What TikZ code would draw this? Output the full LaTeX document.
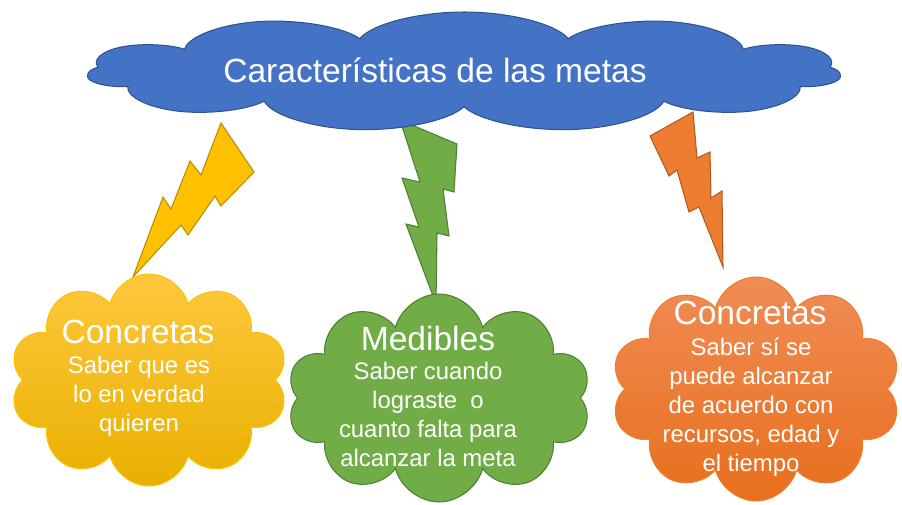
\documentclass[tikz,border=0pt]{standalone}
\usepackage{fontspec}
\setmainfont{Liberation Sans}
\usetikzlibrary{shapes.symbols}

\definecolor{metaazul}{HTML}{4472C4}
\definecolor{metaazulb}{HTML}{2F528F}
\definecolor{metaamarillo}{HTML}{FFC000}
\definecolor{metaamarilloa}{HTML}{FFC83D}
\definecolor{metaamarillob}{HTML}{E8B000}
\definecolor{metaamarillod}{HTML}{BC8C00}
\definecolor{metaverde}{HTML}{70AD47}
\definecolor{metaverded}{HTML}{507E32}
\definecolor{metanaranja}{HTML}{ED7D31}
\definecolor{metanaranjaa}{HTML}{F08C55}
\definecolor{metanaranjab}{HTML}{E86F1C}
\definecolor{metanaranjad}{HTML}{AE5A21}

\begin{document}
\begin{tikzpicture}[x=0.02cm,y=-0.02cm,
	nube/.style 	= {cloud, cloud puffs=10, cloud ignores aspect, inner sep=0pt, line width=0.6pt},
	rayo/.style 	= {line width=0.6pt, line join=miter},
	titulo/.style 	= {text=white, font=\fontsize{19.1}{23}\selectfont, inner sep=0pt},
	texto/.style 	= {text=white, font=\fontsize{13.6}{16.5}\selectfont, align=center, inner sep=0pt}]
	
	\useasboundingbox (0,0) rectangle (902,504);
	
	% rayos
	\filldraw[rayo, fill=metaamarillo, draw=metaamarillod]
		(221,123) -- (254,172) -- (221,206) -- (215,196) -- (188,235) -- (181,225)
		-- (133,277) -- (163,197) -- (171,209) -- (190,161) -- (201,175) -- cycle;
	\filldraw[rayo, fill=metaverde, draw=metaverded]
		(400,120) -- (457,144) -- (454,192) -- (443,189) -- (449,236) -- (437,233)
		-- (436,304) -- (406,224) -- (419,227) -- (402,178) -- (420,182) -- cycle;
	\filldraw[rayo, fill=metanaranja, draw=metanaranjad]
		(693,112) -- (650,136) -- (669,176) -- (677,170) -- (689,212) -- (699,207)
		-- (723,267) -- (722,191) -- (711,198) -- (710,152) -- (697,158) -- cycle;
	
	% nubes
	\node[nube, cloud puffs=11, fill=metaazul, draw=metaazulb, minimum width=5.03cm, minimum height=2.4cm,
		xscale=3, transform shape] (metas) at (464,72) {};
	\node[nube, top color=metaamarilloa, bottom color=metaamarillob, draw=metaamarillo,
		minimum width=5.56cm, minimum height=4.24cm] (concretas) at (149,380) {};
	\node[nube, fill=metaverde, draw=metaverded,
		minimum width=6.08cm, minimum height=4.16cm] (medibles) at (439,398) {};
	\node[nube, top color=metanaranjaa, bottom color=metanaranjab, draw=metanaranja,
		minimum width=5.8cm, minimum height=4.48cm] (alcanzables) at (756,389) {};
	
	% textos
	\node[titulo, anchor=base] (tmetas) at (435,82) {Características de las metas};
	
	\node[titulo, anchor=base] (tconcretas) at (138,343) {Concretas};
	\node[texto, anchor=north] (dconcretas) at (139,356) {Saber que es\\lo en verdad\\quieren};
	
	\node[titulo, anchor=base] (tmedibles) at (428,350) {Medibles};
	\node[texto, anchor=north] (dmedibles) at (428,362) {Saber cuando\\lograste\ \ o\\cuanto falta para\\alcanzar la meta};
	
	\node[titulo, anchor=base] (talcanzables) at (750,324) {Concretas};
	\node[texto, anchor=north] (dalcanzables) at (751,338) {Saber sí se\\puede alcanzar\\de acuerdo con\\recursos, edad y\\el tiempo};
	
\end{tikzpicture}
\end{document}
